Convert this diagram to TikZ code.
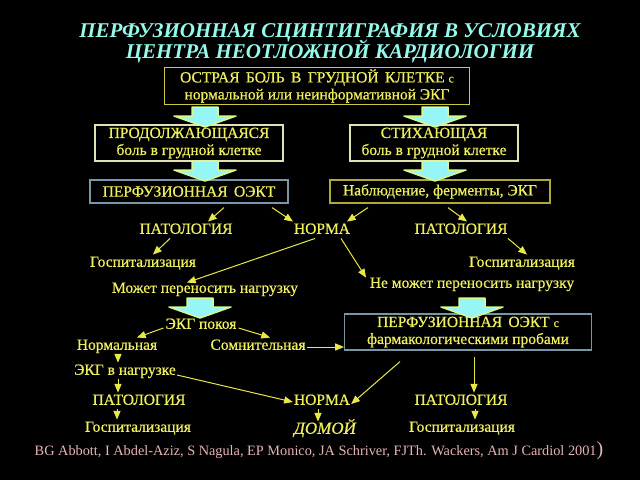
\documentclass[tikz,border=0pt]{standalone}
\usepackage{fontspec}
\setmainfont{Liberation Serif}
\newfontfamily\heavyfont{Liberation Serif}[FakeBold=0.6]
\usetikzlibrary{shapes,arrows}
\definecolor{ttlcyan}{RGB}{150,250,235}
\definecolor{txtyel}{RGB}{240,240,95}
\definecolor{lineyel}{RGB}{232,232,70}
\definecolor{edgeyel}{RGB}{205,200,60}
\definecolor{edgepale}{RGB}{225,225,180}
\definecolor{edgeblue}{RGB}{120,150,165}
\definecolor{citepink}{RGB}{232,180,180}
\definecolor{bigfill}{RGB}{150,245,245}
\definecolor{bigedge}{RGB}{215,250,140}
\tikzstyle{txt}=[text=txtyel,font=\heavyfont\fontsize{15.5}{17}\selectfont,inner sep=1pt,align=center]
\tikzstyle{word}=[txt,text height=11pt,text depth=3.5pt]
\tikzstyle{ttl}=[text=ttlcyan,font=\fontsize{21}{19}\selectfont\bfseries\itshape,inner sep=0pt,text height=14pt,text depth=3pt]
\tikzstyle{boxy}=[txt,line width=1.2pt,minimum height=36pt,inner sep=2pt]
\tikzstyle{arr}=[-triangle 45,lineyel,line width=1pt]
\tikzstyle{bigarr}=[fill=bigfill,draw=bigedge,line width=1.5pt,line join=round]
\newcommand{\smallc}{{\fontsize{12}{12}\selectfont с}}

\begin{document}
\begin{tikzpicture}[x=1pt,y=-1pt]
	\fill[black] (0,0) rectangle (640,480);
	\node[ttl] (title) at (330,32) {ПЕРФУЗИОННАЯ СЦИНТИГРАФИЯ В УСЛОВИЯХ};
	\node[ttl] (subtitle) at (330,53) {ЦЕНТРА НЕОТЛОЖНОЙ КАРДИОЛОГИИ};
	% boxes
	\node[boxy,draw=edgeyel,minimum width=305pt] (acute) at (317,86)
		{ОСТРАЯ\, БОЛЬ\, В\, ГРУДНОЙ\, КЛЕТКЕ \smallc\\нормальной или неинформативной ЭКГ};
	\node[boxy,draw=edgepale,minimum width=188pt] (ongoing) at (189,143) {ПРОДОЛЖАЮЩАЯСЯ\\боль в грудной клетке};
	\node[boxy,draw=edgepale,minimum width=168pt] (easing) at (434,143) {СТИХАЮЩАЯ\\боль в грудной клетке};
	\node[boxy,draw=edgeblue,minimum width=198pt,minimum height=23pt] (spect) at (189,191.5) {ПЕРФУЗИОННАЯ\, ОЭКТ};
	\node[boxy,draw=edgeyel!85!black,minimum width=220pt,minimum height=23pt] (watch) at (440,191.5) {Наблюдение, ферменты, ЭКГ};
	\node[boxy,draw=edgeblue,minimum width=247pt] (pharm) at (468,332) {ПЕРФУЗИОННАЯ\, ОЭКТ \smallc\\фармакологическими пробами};
	% block arrows
	\foreach \x / \y in {205/107,435/107,205/161,435/161,200/298,472/298}
		\draw[bigarr] (\x-13,\y) -- (\x+13,\y) -- (\x+13,\y+9) -- (\x+31,\y+9) -- (\x,\y+20) -- (\x-31,\y+9) -- (\x-13,\y+9) -- cycle;
	% texts
	\node[word] (pathA) at (186,230) {ПАТОЛОГИЯ};
	\node[word] (normA) at (322,230) {НОРМА};
	\node[word] (pathB) at (461,230) {ПАТОЛОГИЯ};
	\node[word] (hospA) at (143,263) {Госпитализация};
	\node[word] (hospB) at (522,263) {Госпитализация};
	\node[word] (canload) at (205,289) {Может переносить нагрузку};
	\node[word] (cannot) at (472,284) {Не может переносить нагрузку};
	\node[word] (restecg) at (201,325) {ЭКГ покоя};
	\node[word] (normal) at (117,346) {Нормальная};
	\node[word] (doubt) at (258,346) {Сомнительная};
	\node[word] (stress) at (125,371) {ЭКГ в нагрузке};
	\node[word] (pathC) at (139,401) {ПАТОЛОГИЯ};
	\node[word] (normC) at (322,401) {НОРМА};
	\node[word] (pathD) at (461,401) {ПАТОЛОГИЯ};
	\node[word] (hospC) at (138,428) {Госпитализация};
	\node[word,font=\heavyfont\fontsize{17}{17}\selectfont\itshape] (home) at (325,430) {ДОМОЙ};
	\node[word] (hospD) at (462,428) {Госпитализация};
	\node[text=citepink,font=\fontsize{14.3}{14}\selectfont,inner sep=1pt] (cite) at (319,451)
		{BG Abbott, I Abdel-Aziz, S Nagula, EP Monico, JA Schriver, FJTh. Wackers, Am J Cardiol 2001{\fontsize{20}{20}\selectfont)}};
	% connectors
	\draw[arr] ([xshift=35pt,yshift=-4pt]spect.south) -- ([xshift=22pt]pathA.north);
	\draw[arr] ([xshift=83pt,yshift=-4pt]spect.south) -- ([xshift=-29pt]normA.north);
	\draw[arr] ([xshift=-72pt,yshift=-4pt]watch.south) -- ([xshift=25pt]normA.north);
	\draw[arr] ([xshift=8pt,yshift=-4pt]watch.south) -- ([xshift=6pt]pathB.north);
	\draw[arr] ([xshift=-16pt]pathA.south) -- ([xshift=10pt]hospA.north);
	\draw[arr] ([xshift=-7pt]normA.south) -- ([xshift=-18pt,yshift=-2pt]canload.north);
	\draw[arr] ([xshift=19pt]normA.south) -- ([xshift=-106pt,yshift=-2pt]cannot.north);
	\draw[arr] ([xshift=47pt]pathB.south) -- ([xshift=5pt]hospB.north);
	\draw[arr] ([xshift=-1pt,yshift=-3pt]restecg.west) -- ([xshift=20pt]normal.north);
	\draw[arr] ([xshift=1pt,yshift=-3pt]restecg.east) -- ([xshift=12pt]doubt.north);
	\draw[arr] ([yshift=-1pt]doubt.east) -- ([yshift=-1pt]doubt.east -| pharm.west);
	\draw[arr] ([xshift=1pt]normal.south) -- ([xshift=-7pt]stress.north);
	\draw[arr] ([xshift=-7pt]stress.south) -- ([xshift=-21pt]pathC.north);
	\draw[arr] ([yshift=-4pt]stress.east) -- ([yshift=-1pt]normC.west);
	\draw[arr] ([xshift=-68pt,yshift=-11pt]pharm.south) -- ([yshift=-3pt]normC.east);
	\draw[arr] ([xshift=6pt,yshift=-6pt]pharm.south) -- ([xshift=13pt]pathD.north);
	\draw[arr] ([xshift=-22pt]pathC.south) -- ([xshift=-21pt]hospC.north);
	\draw[arr] ([xshift=-4pt]normC.south) -- ([xshift=-7pt]home.north);
	\draw[arr] ([xshift=14pt]pathD.south) -- ([xshift=13pt]hospD.north);
\end{tikzpicture}
\end{document}
